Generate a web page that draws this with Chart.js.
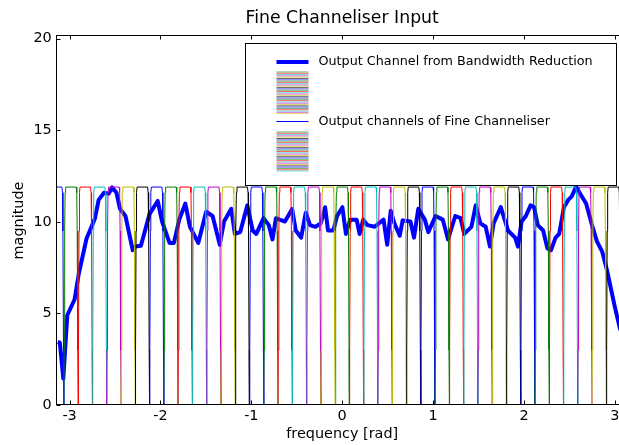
<!DOCTYPE html>
<html>
<head>
<meta charset="utf-8">
<script src="https://cdn.jsdelivr.net/npm/chart.js@4/dist/chart.umd.min.js"></script>
<style>
  html, body { margin: 0; padding: 0; background: #fff; overflow: hidden; }
  #wrap { width: 634px; height: 445px; }
</style>
</head>
<body>
<div id="wrap"><canvas id="chart" width="634" height="445"></canvas></div>
<script>
// matplotlib classic colour cycle
const colours = ['#0000ff', '#008000', '#ff0000', '#00bfbf', '#bf00bf', '#bfbf00', '#000000'];

const xTicks = [-3, -2, -1, 0, 1, 2, 3];
const yTicks = [0, 5, 10, 15, 20];

// Output channel from bandwidth reduction (thick blue)
const bwFreq = [
  -3.13, -3.107, -3.069, -3.025, -2.945, -2.898, -2.813, -2.751, -2.720, -2.680,
  -2.621, -2.570, -2.531, -2.484, -2.444, -2.385, -2.305, -2.278, -2.215, -2.121,
  -2.030, -1.982, -1.900, -1.852, -1.793, -1.726, -1.675, -1.584, -1.497, -1.426,
  -1.347, -1.300, -1.221, -1.181, -1.122, -1.044, -0.985, -0.945, -0.866, -0.807,
  -0.767, -0.729, -0.689, -0.630, -0.551, -0.511, -0.452, -0.401, -0.354, -0.295,
  -0.235, -0.188, -0.156, -0.097, -0.057, 0.002, 0.041, 0.088, 0.159, 0.191,
  0.231, 0.278, 0.357, 0.455, 0.495, 0.534, 0.574, 0.633, 0.665, 0.751,
  0.790, 0.837, 0.909, 0.948, 1.027, 1.107, 1.165, 1.244, 1.303, 1.343,
  1.422, 1.469, 1.520, 1.579, 1.626, 1.666, 1.745, 1.824, 1.903, 1.934,
  1.974, 2.021, 2.073, 2.112, 2.152, 2.211, 2.258, 2.297, 2.348, 2.388,
  2.440, 2.487, 2.526, 2.574, 2.624, 2.684, 2.743, 2.802, 2.862, 2.912,
  3.000, 3.055, 3.100
];
const bwMag = [
  3.44, 3.40, 1.44, 4.90, 5.76, 7.18, 9.09, 9.82, 10.2, 11.2,
  11.59, 11.54, 11.88, 11.59, 10.7, 10.32, 8.45, 8.65, 8.69, 10.42,
  11.14, 10.02, 8.85, 8.85, 10.12, 11.0, 9.73, 8.85, 10.55, 10.32,
  8.75, 10.02, 10.71, 9.34, 9.44, 10.9, 9.53, 9.34, 10.2, 9.82,
  9.04, 10.2, 10.12, 10.02, 10.7, 9.53, 9.14, 10.5, 9.82, 9.73,
  9.92, 10.8, 9.53, 9.53, 10.32, 10.8, 9.34, 10.12, 10.12, 9.34,
  10.12, 9.82, 9.73, 10.12, 8.75, 10.61, 9.92, 9.24, 10.08, 10.02,
  9.14, 10.71, 10.12, 9.44, 10.32, 10.12, 9.04, 10.32, 10.2, 9.34,
  9.73, 10.9, 9.92, 9.73, 8.65, 9.92, 10.8, 9.53, 9.14, 8.65,
  10.02, 10.32, 10.9, 10.8, 9.82, 9.53, 8.55, 8.45, 9.14, 9.34,
  10.8, 11.2, 11.39, 11.92, 11.49, 11.0, 9.92, 8.95, 8.36, 7.4,
  5.36, 4.2, 3.6
];

// fine channeliser outputs, in plotting order (centre frequency of each channel)
const channelCentres = [
  0.000, 0.157, 0.314, 0.471, 0.628, 0.785, 0.942, 1.100, 1.257, 1.414,
  1.571, 1.728, 1.885, 2.042, 2.199, 2.356, 2.513, 2.670, 2.827, 2.985,
  -3.142, -2.985, -2.827, -2.670, -2.513, -2.356, -2.199, -2.042, -1.885, -1.728,
  -1.571, -1.414, -1.257, -1.100, -0.942, -0.785, -0.628, -0.471, -0.314, -0.157
];
// passband shape of one channel: offset from centre [rad], magnitude
const shapeOffset = [-0.079, -0.075, -0.069, -0.064, -0.058, 0.058, 0.064, 0.069, 0.075, 0.079];
const shapeMag = [0, 3.0, 9.5, 11.6, 11.9, 11.9, 11.6, 9.5, 3.0, 0];

const legendLabels = ['Output Channel from Bandwidth Reduction', 'Output channels of Fine Channeliser'];

const channelSeries = (centre) => {
  const pts = [{x: -3.4, y: 0}, {x: 3.4, y: 0}];
  [centre - 2 * Math.PI, centre, centre + 2 * Math.PI].forEach((c) => {
    shapeOffset.forEach((o, i) => pts.push({x: c + o, y: shapeMag[i]}));
  });
  return pts.sort((a, b) => a.x - b.x);
};

const datasets = channelCentres.map((c, k) => ({
  data: channelSeries(c),
  borderColor: colours[(k + 1) % 7],
  borderWidth: 1,
  order: channelCentres.length - 1 - k
}));

datasets.push({
  data: bwFreq.map((f, i) => ({x: f, y: bwMag[i]})),
  borderColor: colours[0],
  borderWidth: 4,
  borderJoinStyle: 'round',
  order: 100
});

const frameAndLegend = {
  id: 'frameAndLegend',
  afterDatasetsDraw(chart) {
    const {ctx, chartArea: a, scales: {x, y}} = chart;
    ctx.save();
    ctx.strokeStyle = '#000';
    ctx.lineWidth = 1;
    const L = Math.floor(a.left) + 0.5, R = Math.floor(a.right) + 0.5;
    const T = Math.floor(a.top) + 0.5, B = Math.floor(a.bottom) + 0.5;
    ctx.strokeRect(L, T, R - L, B - T);
    ctx.beginPath();
    xTicks.forEach((v) => {
      const px = Math.round(x.getPixelForValue(v)) + 0.5;
      ctx.moveTo(px, B); ctx.lineTo(px, B - 4);
      ctx.moveTo(px, T); ctx.lineTo(px, T + 4);
    });
    yTicks.forEach((v) => {
      const py = Math.round(y.getPixelForValue(v)) + 0.5;
      ctx.moveTo(L, py); ctx.lineTo(L + 4, py);
      ctx.moveTo(R, py); ctx.lineTo(R - 4, py);
    });
    ctx.stroke();

    // legend
    const bx = Math.round(a.right - 11.5 - 371) + 0.5, by = Math.round(a.top + 7.5) + 0.5;
    const bw = 371, bh = 142;
    ctx.fillStyle = '#fff';
    ctx.fillRect(bx, by, bw, bh);
    ctx.strokeRect(bx, by, bw, bh);
    const hx0 = bx + 31, hx1 = bx + 63, tx = bx + 73;
    ctx.font = '12.75px "DejaVu Sans"';
    ctx.textBaseline = 'middle';
    ctx.fillStyle = '#000';

    ctx.strokeStyle = colours[0];
    ctx.lineWidth = 4;
    ctx.beginPath(); ctx.moveTo(hx0, by + 18.5); ctx.lineTo(hx1, by + 18.5); ctx.stroke();
    ctx.fillText(legendLabels[0], tx, by + 18.5);

    ctx.lineWidth = 0.8;
    ctx.globalAlpha = 0.75;
    for (let j = 0; j < 33; j++) {
      ctx.strokeStyle = colours[(j + 1) % 7];
      const yy = by + 28.5 + j * 1.3;
      ctx.beginPath(); ctx.moveTo(hx0, yy); ctx.lineTo(hx1, yy); ctx.stroke();
    }
    for (let j = 0; j < 31; j++) {
      ctx.strokeStyle = colours[(j + 36) % 7];
      const yy = by + 88.5 + j * 1.3;
      ctx.beginPath(); ctx.moveTo(hx0, yy); ctx.lineTo(hx1, yy); ctx.stroke();
    }
    ctx.globalAlpha = 1;
    ctx.lineWidth = 1.2;
    ctx.strokeStyle = colours[0];
    ctx.beginPath(); ctx.moveTo(hx0, by + 78); ctx.lineTo(hx1, by + 78); ctx.stroke();
    ctx.fillText(legendLabels[1], tx, by + 78);
    ctx.restore();
  }
};

Chart.defaults.font.family = '"DejaVu Sans"';
Chart.defaults.color = '#000';

new Chart(document.getElementById('chart'), {
  type: 'line',
  data: {datasets},
  options: {
    responsive: false,
    animation: false,
    parsing: false,
    layout: {padding: {left: 0, right: 6.3, top: 0, bottom: 0}},
    elements: {point: {radius: 0}, line: {tension: 0}},
    plugins: {
      legend: {display: false},
      tooltip: {enabled: false},
      title: {
        display: true,
        text: 'Fine Channeliser Input',
        fullSize: false,
        font: {size: 17.3, weight: 'normal'},
        padding: {top: 8.5, bottom: 6.7}
      }
    },
    scales: {
      x: {
        type: 'linear',
        min: -Math.PI,
        max: Math.PI,
        afterBuildTicks: (s) => { s.ticks = xTicks.map((v) => ({value: v})); },
        afterFit: (s) => { s.height = 40; },
        grid: {display: false, drawTicks: false},
        border: {display: false},
        ticks: {font: {size: 14.4}, padding: 3, autoSkip: false, maxRotation: 0,
          callback: (v) => String(v)},
        title: {display: true, text: 'frequency [rad]', font: {size: 14.4}, padding: {top: 0, bottom: 2}}
      },
      y: {
        min: 0,
        max: 20.15,
        afterBuildTicks: (s) => { s.ticks = yTicks.map((v) => ({value: v})); },
        afterFit: (s) => { s.width = 56.7; },
        grid: {display: false, drawTicks: false},
        border: {display: false},
        ticks: {font: {size: 14.4}, padding: 5, callback: (v) => String(v)},
        title: {display: true, text: 'magnitude', font: {size: 14.4}, padding: {top: 11, bottom: 0}}
      }
    }
  },
  plugins: [frameAndLegend]
});
</script>
</body>
</html>
